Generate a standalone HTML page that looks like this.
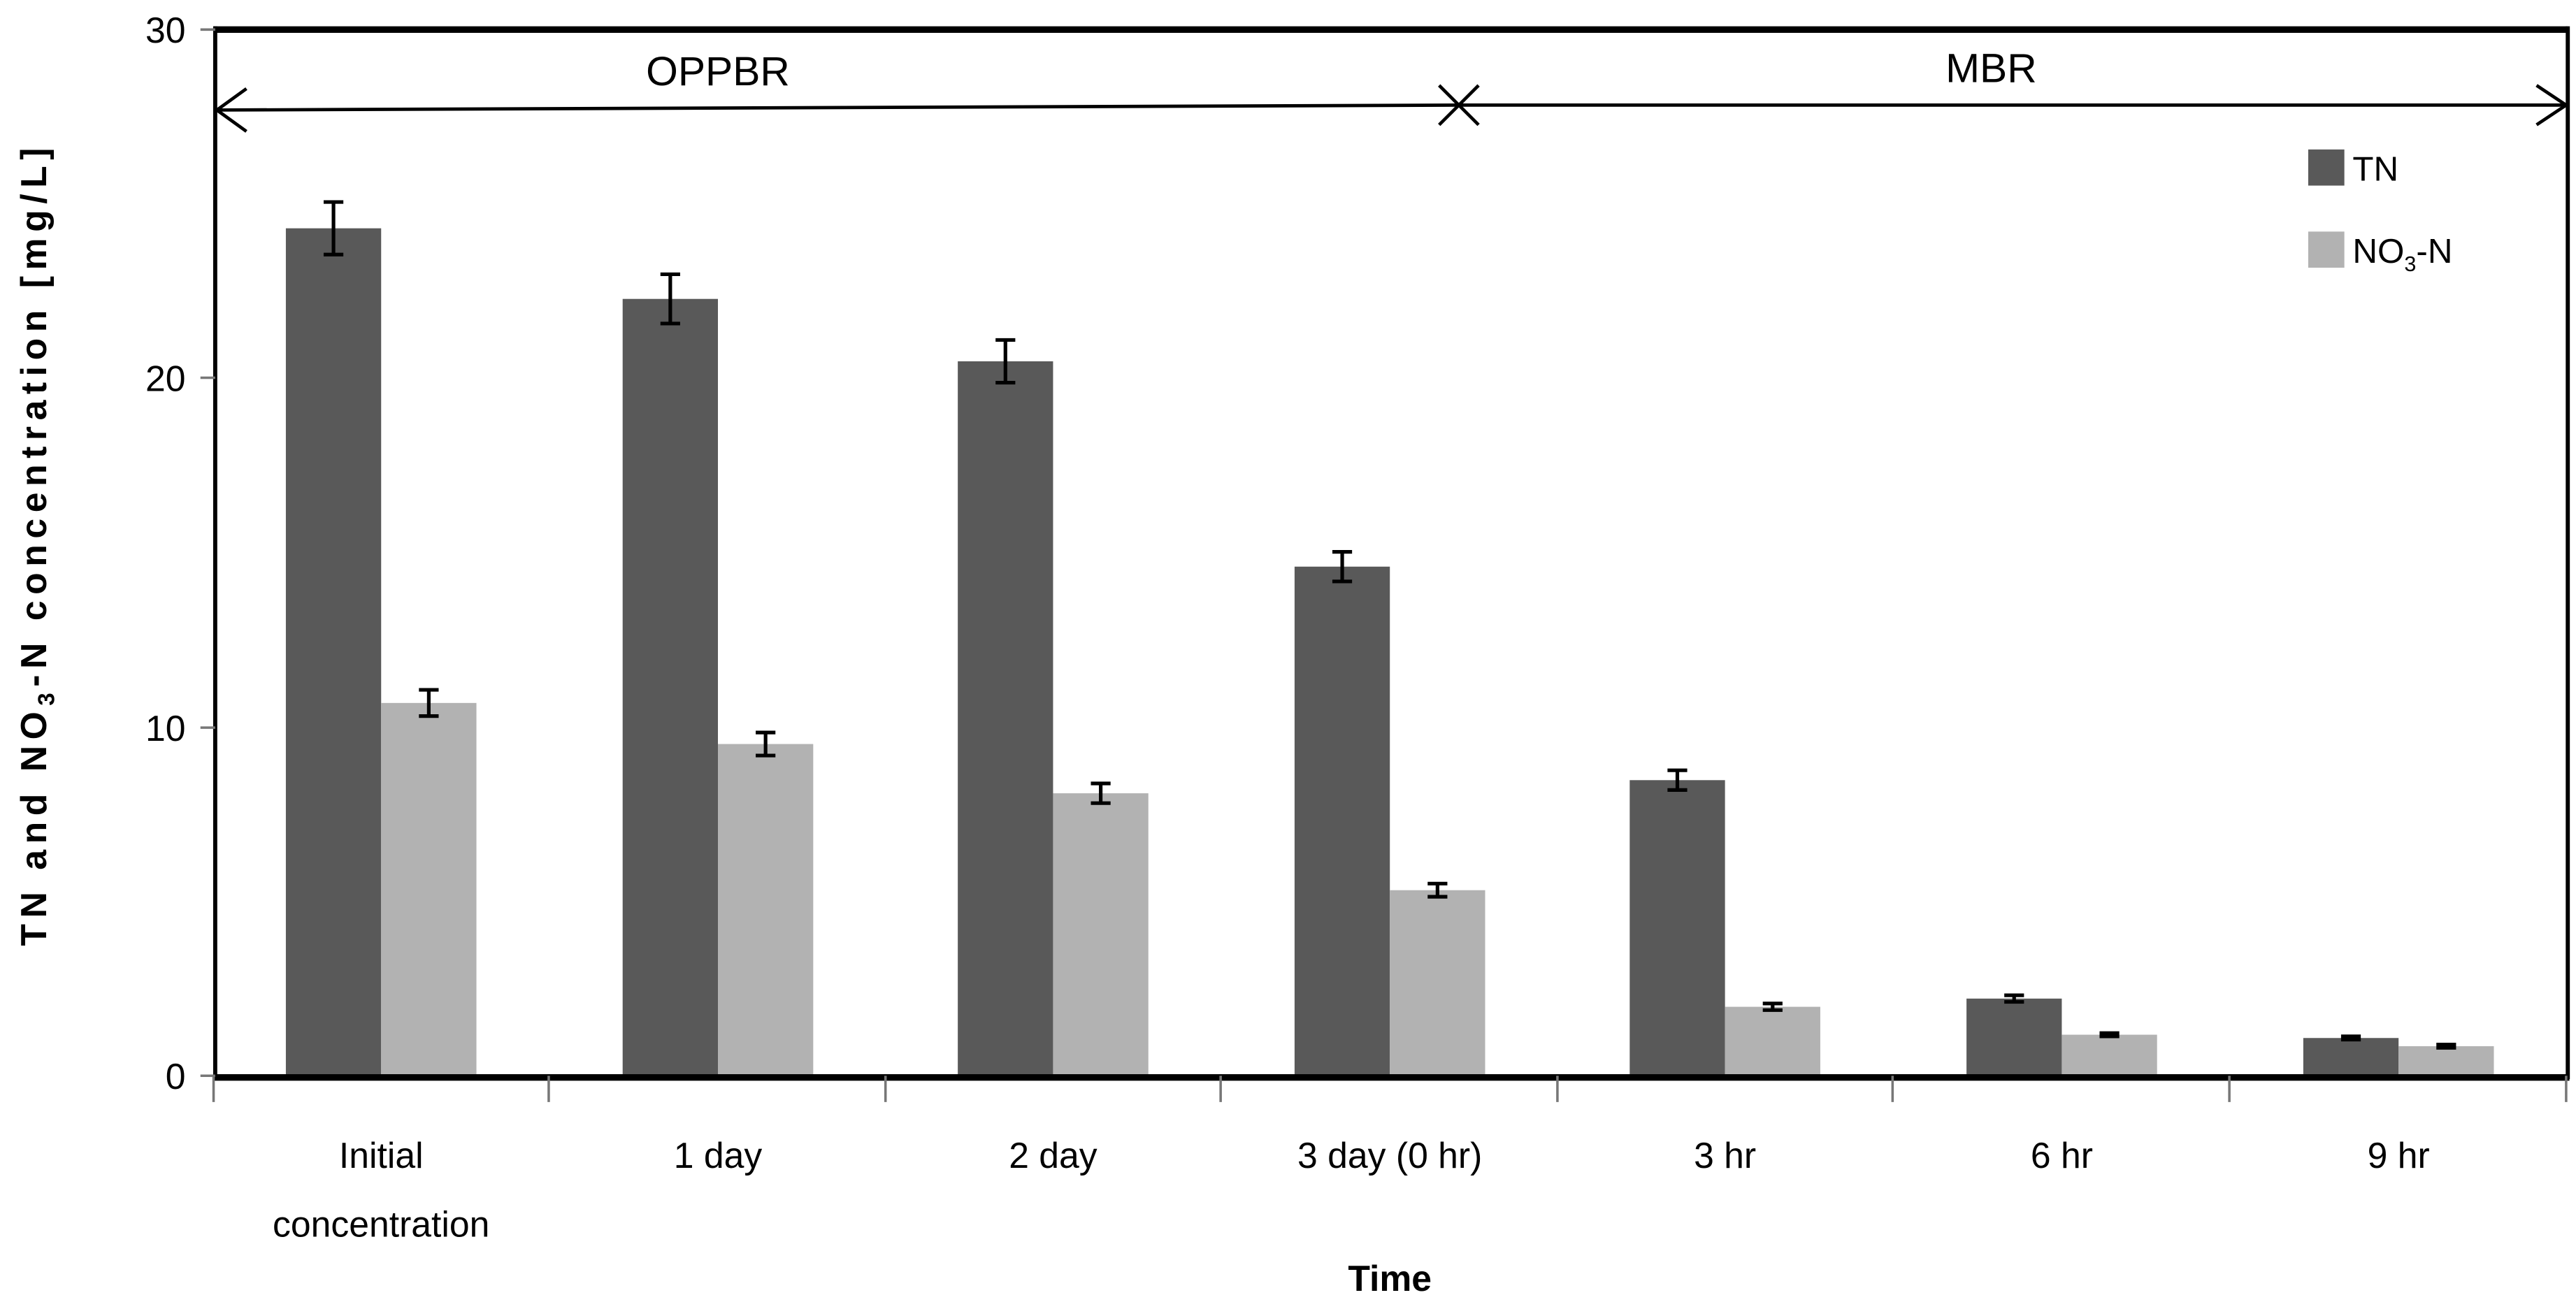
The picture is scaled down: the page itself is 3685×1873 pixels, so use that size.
<!DOCTYPE html>
<html><head><meta charset="utf-8"><style>html,body{margin:0;padding:0;background:#fff}svg{display:block}</style></head>
<body>
<svg width="3685" height="1873" viewBox="0 0 1568 797" preserveAspectRatio="none" xmlns="http://www.w3.org/2000/svg" font-family="Liberation Sans, sans-serif">
<rect width="1568" height="797" fill="#fff"/>
<g fill="#595959">
<rect x="174" y="139" width="58" height="516"/>
<rect x="379" y="182" width="58" height="473"/>
<rect x="583" y="220" width="58" height="435"/>
<rect x="788" y="345" width="58" height="310"/>
<rect x="992" y="475" width="58" height="180"/>
<rect x="1197" y="608" width="58" height="47"/>
<rect x="1402" y="632" width="58" height="23"/>
</g>
<g fill="#b2b2b2">
<rect x="232" y="428" width="58" height="227"/>
<rect x="437" y="453" width="58" height="202"/>
<rect x="641" y="483" width="58" height="172"/>
<rect x="846" y="542" width="58" height="113"/>
<rect x="1050" y="613" width="58" height="42"/>
<rect x="1255" y="630" width="58" height="25"/>
<rect x="1460" y="637" width="58" height="18"/>
</g>
<g stroke="#000" stroke-width="2.2" fill="none">
<path d="M203 123v32M197 123h12M197 155h12"/>
<path d="M408 167v30M402 167h12M402 197h12"/>
<path d="M612 207v26M606 207h12M606 233h12"/>
<path d="M817 336v18M811 336h12M811 354h12"/>
<path d="M1021 469v12M1015 469h12M1015 481h12"/>
<path d="M1226 606v4M1220 606h12M1220 610h12"/>
<path d="M1431 631v2M1425 631h12M1425 633h12"/>
<path d="M261 420v16M255 420h12M255 436h12"/>
<path d="M466 446v14M460 446h12M460 460h12"/>
<path d="M670 477v12M664 477h12M664 489h12"/>
<path d="M875 538v8M869 538h12M869 546h12"/>
<path d="M1079 611v4M1073 611h12M1073 615h12"/>
<path d="M1284 629v2M1278 629h12M1278 631h12"/>
<path d="M1489 636v2M1483 636h12M1483 638h12"/>
</g>
<line x1="130" y1="18" x2="1563" y2="18" stroke="#000" stroke-width="4"/>
<line x1="1563" y1="16" x2="1563" y2="657" stroke="#000" stroke-width="2.5"/>
<line x1="131" y1="16" x2="131" y2="657" stroke="#000" stroke-width="2.5"/>
<line x1="130" y1="656" x2="1564" y2="656" stroke="#000" stroke-width="4"/>
<g stroke="#777" stroke-width="1.5">
<path d="M122 18h9M122 230h9M122 443h9M122 655h9"/>
<path d="M130 655v16M334 655v16M539 655v16M743 655v16M948 655v16M1152 655v16M1357 655v16M1562 655v16"/>
</g>
<g stroke="#000" stroke-width="2" fill="none">
<path d="M131 67L888 64"/>
<path d="M888 64L1562 64"/>
<path d="M150 54L132 67L150 80"/>
<path d="M1544 52L1562 64L1544 76"/>
<path d="M876 52L900 76M900 52L876 76"/>
</g>
<g font-size="25" fill="#000" text-anchor="middle">
<text x="437" y="52">OPPBR</text>
<text x="1212" y="50">MBR</text>
</g>
<g font-size="22" fill="#000" text-anchor="end">
<text x="113" y="26">30</text>
<text x="113" y="238">20</text>
<text x="113" y="451">10</text>
<text x="113" y="663">0</text>
</g>
<g font-size="22" fill="#000" text-anchor="middle">
<text x="232" y="711">Initial</text>
<text x="232" y="753">concentration</text>
<text x="437" y="711">1 day</text>
<text x="641" y="711">2 day</text>
<text x="846" y="711">3 day (0 hr)</text>
<text x="1050" y="711">3 hr</text>
<text x="1255" y="711">6 hr</text>
<text x="1460" y="711">9 hr</text>
</g>
<text x="846" y="786" font-size="22" font-weight="bold" text-anchor="middle">Time</text>
<text transform="translate(28,576) rotate(-90)" font-size="22" font-weight="bold" textLength="486" lengthAdjust="spacing">TN and NO<tspan font-size="14" dy="5">3</tspan><tspan dy="-5">-N concentration  [mg/L]</tspan></text>
<rect x="1405" y="91" width="22" height="22" fill="#595959"/>
<rect x="1405" y="141" width="22" height="22" fill="#b2b2b2"/>
<g font-size="21" fill="#000">
<text x="1432" y="110">TN</text>
<text x="1432" y="160">NO<tspan font-size="13" dy="5">3</tspan><tspan dy="-5">-N</tspan></text>
</g>
</svg>
</body></html>
